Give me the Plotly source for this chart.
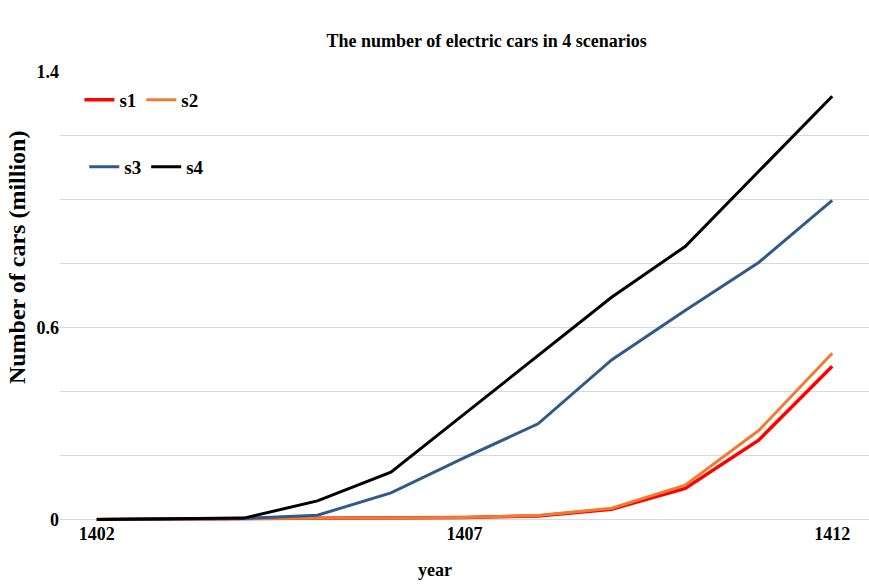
import plotly.graph_objects as go

# Scenario projections of electric cars (million), years 1402-1412
years = [1402, 1403, 1404, 1405, 1406, 1407, 1408, 1409, 1410, 1411, 1412]
s1 = [0.0, 0.001, 0.002, 0.003, 0.004, 0.006, 0.011, 0.032, 0.097, 0.248, 0.479]
s2 = [0.0, 0.001, 0.002, 0.003, 0.004, 0.006, 0.012, 0.035, 0.107, 0.278, 0.520]
s3 = [0.0, 0.001, 0.003, 0.013, 0.083, 0.193, 0.299, 0.499, 0.654, 0.804, 0.998]
s4 = [0.0, 0.002, 0.004, 0.058, 0.148, 0.330, 0.514, 0.695, 0.854, 1.089, 1.324]

x_ticks = [1402, 1407, 1412]
y_ticks = [0, 0.2, 0.4, 0.6, 0.8, 1.0, 1.2, 1.4]
y_ticktext = ["0", "", "", "0.6", "", "", "", "1.4"]

SERIF = "Liberation Serif, Times New Roman, serif"

series = [
    ("s1", s1, "#FF0000", 3.5, "legend"),
    ("s2", s2, "#ED7D31", 3.0, "legend"),
    ("s3", s3, "#2F5B88", 3.0, "legend2"),
    ("s4", s4, "#000000", 3.0, "legend2"),
]

fig = go.Figure()
for name, vals, color, width, leg in series:
    fig.add_trace(go.Scatter(
        x=years, y=vals, name=name, mode="lines",
        line=dict(color=color, width=width),
        legend=leg,
    ))

legend_font = dict(family=SERIF, size=19, color="#000000", weight="bold")

fig.update_layout(
    width=869, height=587,
    margin=dict(l=60, r=0, t=72, b=66),
    paper_bgcolor="white", plot_bgcolor="white",
    font=dict(family=SERIF, color="#000000", weight="bold"),
    title=dict(
        text="The number of electric cars in 4 scenarios",
        font=dict(family=SERIF, size=18, color="#000000", weight="bold"),
        xref="container", x=0.56, xanchor="center",
        yref="container", y=1 - 41 / 587, yanchor="middle",
    ),
    legend=dict(
        orientation="h", x=0.024, y=0.98, xanchor="left", yanchor="top",
        font=legend_font, bgcolor="rgba(0,0,0,0)",
    ),
    legend2=dict(
        orientation="h", x=0.030, y=0.831, xanchor="left", yanchor="top",
        font=legend_font, bgcolor="rgba(0,0,0,0)",
    ),
    xaxis=dict(
        range=[1401.5, 1412.5],
        tickvals=x_ticks, ticktext=[str(v) for v in x_ticks],
        showgrid=False, zeroline=False, showline=False, ticks="",
        tickfont=dict(family=SERIF, size=18, color="#000000", weight="bold"),
    ),
    yaxis=dict(
        range=[-0.005, 1.4],
        tickvals=y_ticks, ticktext=y_ticktext,
        showgrid=True, gridcolor="#D9D9D9", gridwidth=1,
        zeroline=False, showline=False, ticks="",
        tickfont=dict(family=SERIF, size=18, color="#000000", weight="bold"),
    ),
    annotations=[
        # axis titles
        dict(text="year", xref="paper", yref="paper", x=0.4635, y=-0.109,
             xanchor="center", yanchor="middle", showarrow=False,
             font=dict(family=SERIF, size=18, color="#000000", weight="bold")),
        dict(text="Number of cars (million)", xref="paper", yref="paper",
             x=-0.053, y=0.588, xanchor="center", yanchor="middle",
             textangle=-90, showarrow=False,
             font=dict(family=SERIF, size=24, color="#000000", weight="bold")),
    ],
)

fig.write_html("out.html")
